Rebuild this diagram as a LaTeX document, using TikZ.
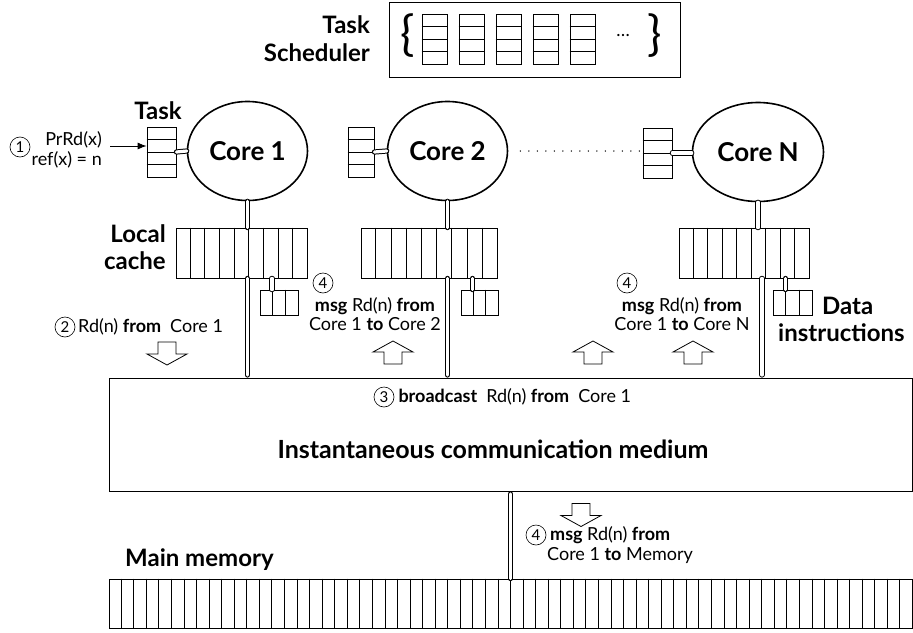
\documentclass[tikz,border=0pt]{standalone}
\usepackage{fontspec}
\setmainfont{Lato}
\usetikzlibrary{arrows.meta,positioning,shapes.geometric,calc}

% vertical cell dividers: node, cells, cells-1
\newcommand{\vcells}[3]{%
  \foreach \k in {1,...,#3}
    \draw[line width=0.8pt] ($(#1.north west)!\k/#2!(#1.north east)$) -- ($(#1.south west)!\k/#2!(#1.south east)$);}
% horizontal cell dividers: node, cells, cells-1
\newcommand{\hcells}[3]{%
  \foreach \k in {1,...,#3}
    \draw[line width=0.8pt] ($(#1.north west)!\k/#2!(#1.south west)$) -- ($(#1.north east)!\k/#2!(#1.south east)$);}

\begin{document}
\begin{tikzpicture}[x=1pt,y=-1pt,
   box/.style={draw,line width=0.8pt,inner sep=0pt},
   core/.style={ellipse,draw,line width=1.6pt,minimum width=120pt,minimum height=99pt,
     font=\fontsize{26}{26}\selectfont\bfseries},
   lbl/.style={font=\fontsize{24}{27}\selectfont\bfseries,inner sep=0pt},
   txt/.style={font=\fontsize{18}{19.5}\selectfont,inner sep=0pt},
   num/.style={circle,draw,line width=0.6pt,minimum size=20pt,inner sep=0pt,
     font=\fontsize{15}{15}\selectfont},
   link/.style={double distance=3.2pt,line width=1pt,line cap=round},
   hollow/.pic={\draw[fill=white,line width=0.8pt] (-9,-11.5) -- (9,-11.5) -- (9,0.5)
     -- (20,0.5) -- (0,11.5) -- (-20,0.5) -- (-9,0.5) -- cycle;}]
  \useasboundingbox (0,0) rectangle (913,632);

  % task scheduler
  \node[box,minimum width=291pt,minimum height=75pt] (sched) at (534.5,39.5) {};
  \foreach \i in {1,...,5} {
    \node[box,minimum width=25pt,minimum height=50pt] (s\i) at (397.5+37*\i,39) {};
    \hcells{s\i}{4}{3}
  }
  \node[font=\fontsize{48}{48}\selectfont] (lbrace) at (408,36) {\{};
  \node[font=\fontsize{48}{48}\selectfont] (rbrace) at (655,36) {\}};
  \node[txt] (sdots) at (623,36) {\dots};
  \node[lbl,align=right,anchor=east,font=\fontsize{24}{28}\selectfont\bfseries] (schedlbl) at (370,39) {Task\\Scheduler};

  % cores and task queues
  \node[core] (c1) at (247.5,151) {Core 1};
  \node[core] (c2) at (447.5,151) {Core 2};
  \node[core,minimum width=131pt] (cN) at (758,152) {Core N};
  \node[box,minimum width=29pt,minimum height=50pt] (t1) at (161.5,152) {};
  \node[box,minimum width=26pt,minimum height=50pt] (t2) at (361,152) {};
  \node[box,minimum width=29pt,minimum height=50pt] (tN) at (657.5,153) {};
  \hcells{t1}{4}{3}
  \hcells{t2}{4}{3}
  \hcells{tN}{4}{3}
  \draw[link] (t1.east) -- (c1.west);
  \draw[link] (t2.east) -- (c2.west);
  \draw[link] (tN.east) -- (tN.east -| cN.west);
  \draw[line width=1.5pt,line cap=round,dash pattern=on 0pt off 8.5pt] ([xshift=12pt]c2.east) -- (c2.east -| tN.west);
  \node[lbl] (tasklbl) at (158,111) {Task};
  \node[num] (n1) at (20,147) {1};
  \node[txt,align=right,anchor=east] (prrd) at (102,150) {PrRd(x)\\ref(x) = n};
  \coordinate (a0) at (110,146);
  \draw[-{Latex[length=9pt,width=7pt]},line width=0.8pt] (a0) -- (a0 -| t1.west);

  % local caches
  \node[box,minimum width=131pt,minimum height=50pt] (k1) at (241.5,253) {};
  \node[box,minimum width=136pt,minimum height=50pt] (k2) at (429,253) {};
  \node[box,minimum width=130pt,minimum height=50pt] (kN) at (744,253) {};
  \vcells{k1}{9}{8}
  \vcells{k2}{9}{8}
  \vcells{kN}{9}{8}
  \draw[link] (c1.south) -- (c1.south |- k1.north);
  \draw[link] (c2.south) -- (c2.south |- k2.north);
  \draw[link] (cN.south) -- (cN.south |- kN.north);
  \node[lbl,align=right,anchor=east] (cachelbl) at (166,247) {Local\\cache};

  % data instructions
  \node[box,minimum width=38pt,minimum height=25pt] (d1) at (279,302.5) {};
  \node[box,minimum width=37pt,minimum height=25pt] (d2) at (479.5,302.5) {};
  \node[box,minimum width=39pt,minimum height=25pt] (dN) at (792.5,302.5) {};
  \vcells{d1}{3}{2}
  \vcells{d2}{3}{2}
  \vcells{dN}{3}{2}
  \draw[link] ([xshift=-7pt]d1.north |- k1.south) -- ([xshift=-7pt]d1.north);
  \draw[link] ([xshift=-7pt]d2.north |- k2.south) -- ([xshift=-7pt]d2.north);
  \draw[link] ([xshift=-7pt]dN.north |- kN.south) -- ([xshift=-7pt]dN.north);
  \node[lbl,anchor=west] (datalbl) at (822,306) {Data};
  \node[lbl,anchor=west] (instlbl) at (778,333) {instructions};

  % communication medium
  \node[box,minimum width=803pt,minimum height=113pt] (med) at (510.5,434.5) {};
  \draw[link,shorten >=2.6pt] (c1.south |- k1.south) -- (c1.south |- med.north);
  \draw[link,shorten >=2.6pt] (c2.south |- k2.south) -- (c2.south |- med.north);
  \draw[link,shorten >=2.6pt] ([xshift=4pt]cN.south |- kN.south) -- ([xshift=4pt]cN.south |- med.north);
  \node[num] (n3) at (384,397) {3};
  \node[txt,right=4pt of n3] (bcast) {\textbf{broadcast}\enspace Rd(n) \textbf{from}\enspace Core 1};
  \node[font=\fontsize{25}{25}\selectfont\bfseries] (medlbl) at (493,449) {Instantaneous communication medium};

  % messages
  \node[num] (n2) at (65,327) {2};
  \node[txt,anchor=west] (rd2) at (78,327) {Rd(n) \textbf{from}\enspace Core 1};
  \pic at (167,353.5) {hollow};
  \node[num] (n4a) at (323,283) {4};
  \node[txt,align=center] (msg2) at (375,314) {\textbf{msg} Rd(n) \textbf{from}\\Core 1 \textbf{to} Core 2};
  \pic[rotate=180] at (393,352.5) {hollow};
  \node[num] (n4b) at (627,283) {4};
  \node[txt,align=center] (msgN) at (682,314) {\textbf{msg} Rd(n) \textbf{from}\\Core 1 \textbf{to} Core N};
  \pic[rotate=180] at (593,352.5) {hollow};
  \pic[rotate=180] at (693,352.5) {hollow};

  % main memory
  \node[box,minimum width=803pt,minimum height=49pt] (mem) at (510.5,603.5) {};
  \vcells{mem}{64}{63}
  \draw[link,shorten <=2.6pt] (med.south) -- (mem.north);
  \node[lbl,anchor=west] (memlbl) at (125,560) {Main memory};
  \pic at (581,515) {hollow};
  \node[num] (n4c) at (536,535) {4};
  \node[txt,anchor=west] (msgm1) at (550,535) {\textbf{msg} Rd(n) \textbf{from}};
  \node[txt,anchor=west] (msgm2) at (547,556) {Core 1 \textbf{to} Memory};
\end{tikzpicture}
\end{document}
